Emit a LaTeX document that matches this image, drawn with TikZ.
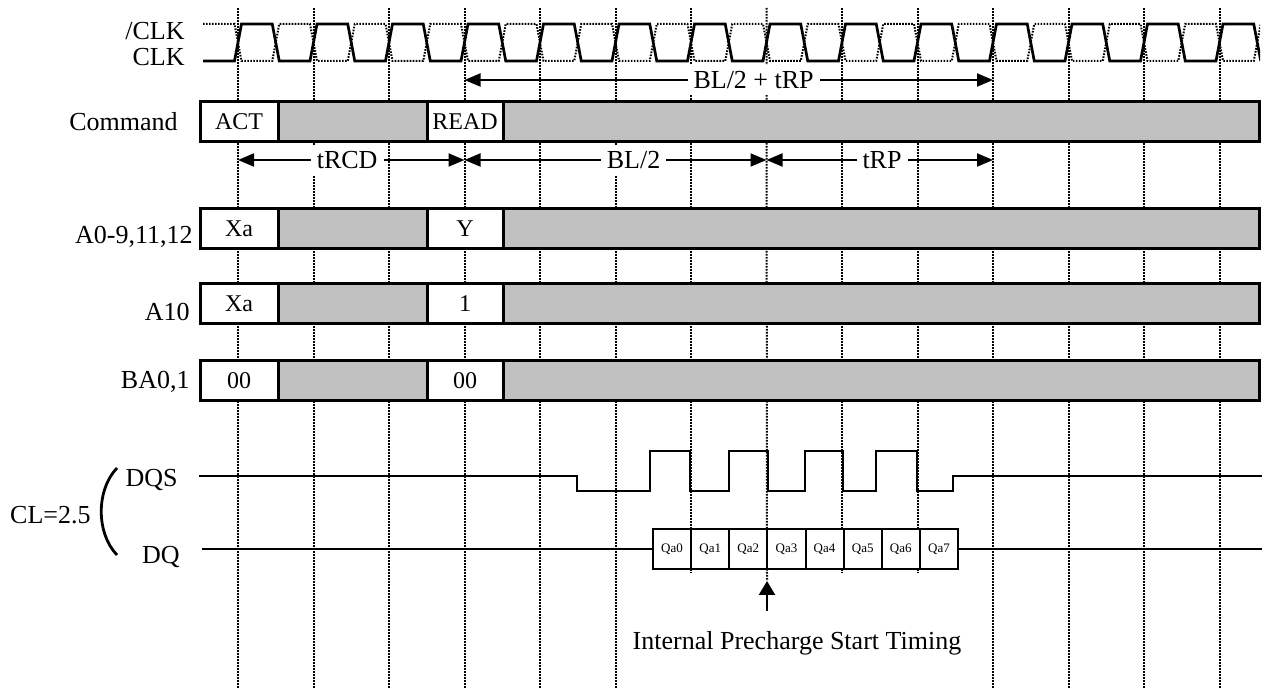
\documentclass[tikz,border=0pt]{standalone}
\usepackage{fontspec}
\setmainfont{Liberation Serif}
\usepackage{xcolor}
\usepackage{tikz}
\usetikzlibrary{arrows.meta,positioning,calc}
\definecolor{ddrGray}{HTML}{C0C0C0}

\begin{document}
\begin{tikzpicture}[
  x=0.5pt,y=-0.5pt,
  font=\fontsize{13}{15}\selectfont,
  grid/.style={line width=1pt,dash pattern=on 0.8pt off 0.7pt},
  wave/.style={line width=1.35pt,line join=miter},
  sig/.style={inner sep=0pt,anchor=east},
  cell/.style={draw,line width=1.5pt,fill=white,minimum height=20pt,
               inner sep=0pt,outer sep=0pt,anchor=west,
               font=\fontsize{12}{14}\selectfont},
  hold/.style={cell,fill=ddrGray},
  qbox/.style={draw,line width=1pt,fill=white,minimum height=20pt,
               minimum width=19.06pt,inner sep=0pt,outer sep=0pt,
               font=\fontsize{6.5}{8}\selectfont},
  dim/.style={{Triangle[length=8pt,width=6.5pt]}-{Triangle[length=8pt,width=6.5pt]},line width=1pt},
  lbl/.style={fill=white,inner sep=3pt}
]
\useasboundingbox (0,0) rectangle (1270,689);

% Vertical clock grid
\foreach \i in {0,...,13}
  \coordinate (g\i) at ({238+75.5*\i},8);
\foreach \i in {0,...,5,10,11,12,13}
  \draw[grid] (g\i) -- ++(0,681);
\foreach \i in {6,8,9}
  \draw[grid] (g\i) -- ++(0,565);
\coordinate (iptail) at (767,611);
\coordinate (iphead) at (767,581);
\draw[grid] (g7) -- (iphead);

% Clock pair
\begin{scope}
  \clip (190,0) rectangle (1260,80);
  \draw[grid] (203,24) \foreach \k in {0,...,13}{
    -- ({234.5+75.5*\k},24) -- ({241.5+75.5*\k},61)
    -- ({272.25+75.5*\k},61) -- ({279.25+75.5*\k},24)};
  \draw[wave] (203,61) \foreach \k in {0,...,13}{
    -- ({234.5+75.5*\k},61) -- ({241.5+75.5*\k},24)
    -- ({272.25+75.5*\k},24) -- ({279.25+75.5*\k},61)};
\end{scope}
\node[sig] (nclk) at (185,31) {/CLK};
\node[sig] (clk)  at (185,57) {CLK};

% Command and address rows
\node[sig] (lcmd) at (178,122) {Command};
\node[cell,minimum width=39pt]  (cact)  at (200,121.5) {ACT};
\node[hold,minimum width=74.5pt] (cnop1) at (cact.east) {};
\node[cell,minimum width=38pt]  (cread) at (cnop1.east) {READ};
\node[hold,minimum width=378pt] (cnop2) at (cread.east) {};

\node[sig] (laddr) at (193,237) {A0-9,11,12};
\node[cell,minimum width=39pt]  (aact)  at (200,229) {Xa};
\node[hold,minimum width=74.5pt] (anop1) at (aact.east) {};
\node[cell,minimum width=38pt]  (aread) at (anop1.east) {Y};
\node[hold,minimum width=378pt] (anop2) at (aread.east) {};

\node[sig] (la10) at (190,312) {A10};
\node[cell,minimum width=39pt]  (tact)  at (200,303.5) {Xa};
\node[hold,minimum width=74.5pt] (tnop1) at (tact.east) {};
\node[cell,minimum width=38pt]  (tread) at (tnop1.east) {1};
\node[hold,minimum width=378pt] (tnop2) at (tread.east) {};

\node[sig] (lba) at (190,382) {BA0,1};
\node[cell,minimum width=39pt]  (bact)  at (200,380.5) {00};
\node[hold,minimum width=74.5pt] (bnop1) at (bact.east) {};
\node[cell,minimum width=38pt]  (bread) at (bnop1.east) {00};
\node[hold,minimum width=378pt] (bnop2) at (bread.east) {};

% Timing spans
\draw[dim] ($(g3)+(0,72)$) -- node[lbl,pos=0.547]{BL/2 + tRP} ($(g10)+(0,72)$);
\draw[dim] ($(g0)+(0,152)$) -- node[lbl,pos=0.482]{tRCD} ($(g3)+(0,152)$);
\draw[dim] ($(g3)+(0,152)$) -- node[lbl,pos=0.56]{BL/2} ($(g7)+(0,152)$);
\draw[dim] ($(g7)+(0,152)$) -- node[lbl,pos=0.51]{tRP} ($(g10)+(0,152)$);

% Data strobe and data
\node[sig] (lcl)  at (91,515) {CL=2.5};
\draw[line width=1.4pt] (117,468) .. controls (96,490) and (96,533) .. (117,555);
\node[sig] (ldqs) at (178,480) {DQS};
\node[sig] (ldq)  at (180,557) {DQ};

\coordinate (dqsin)  at (199,476);
\coordinate (dqsout) at (1262,476);
\draw[line width=1.2pt] (dqsin) -- (577,476) -- (577,491) -- (650,491) -- (650,451)
  -- (690,451) -- (690,491) -- (729,491) -- (729,451) -- (768,451) -- (768,491)
  -- (805,491) -- (805,451) -- (843,451) -- (843,491) -- (876,491) -- (876,451)
  -- (917,451) -- (917,491) -- (953,491) -- (953,476) -- (dqsout);

\foreach \i in {0,...,7}
  \node[qbox] (qa\i) at ({653+38.125*(\i+0.5)},549) {Qa\i};
\coordinate (dqin)  at (202,549);
\coordinate (dqout) at (1262,549);
\draw[line width=1.1pt] (dqin) -- (qa0.west);
\draw[line width=1.1pt] (qa7.east) -- (dqout);

% Precharge marker
\node (ipst) at (797,643) {Internal Precharge Start Timing};
\draw[-{Triangle[length=7pt,width=8pt]},line width=1.2pt] (iptail) -- (iphead);
\end{tikzpicture}
\end{document}
